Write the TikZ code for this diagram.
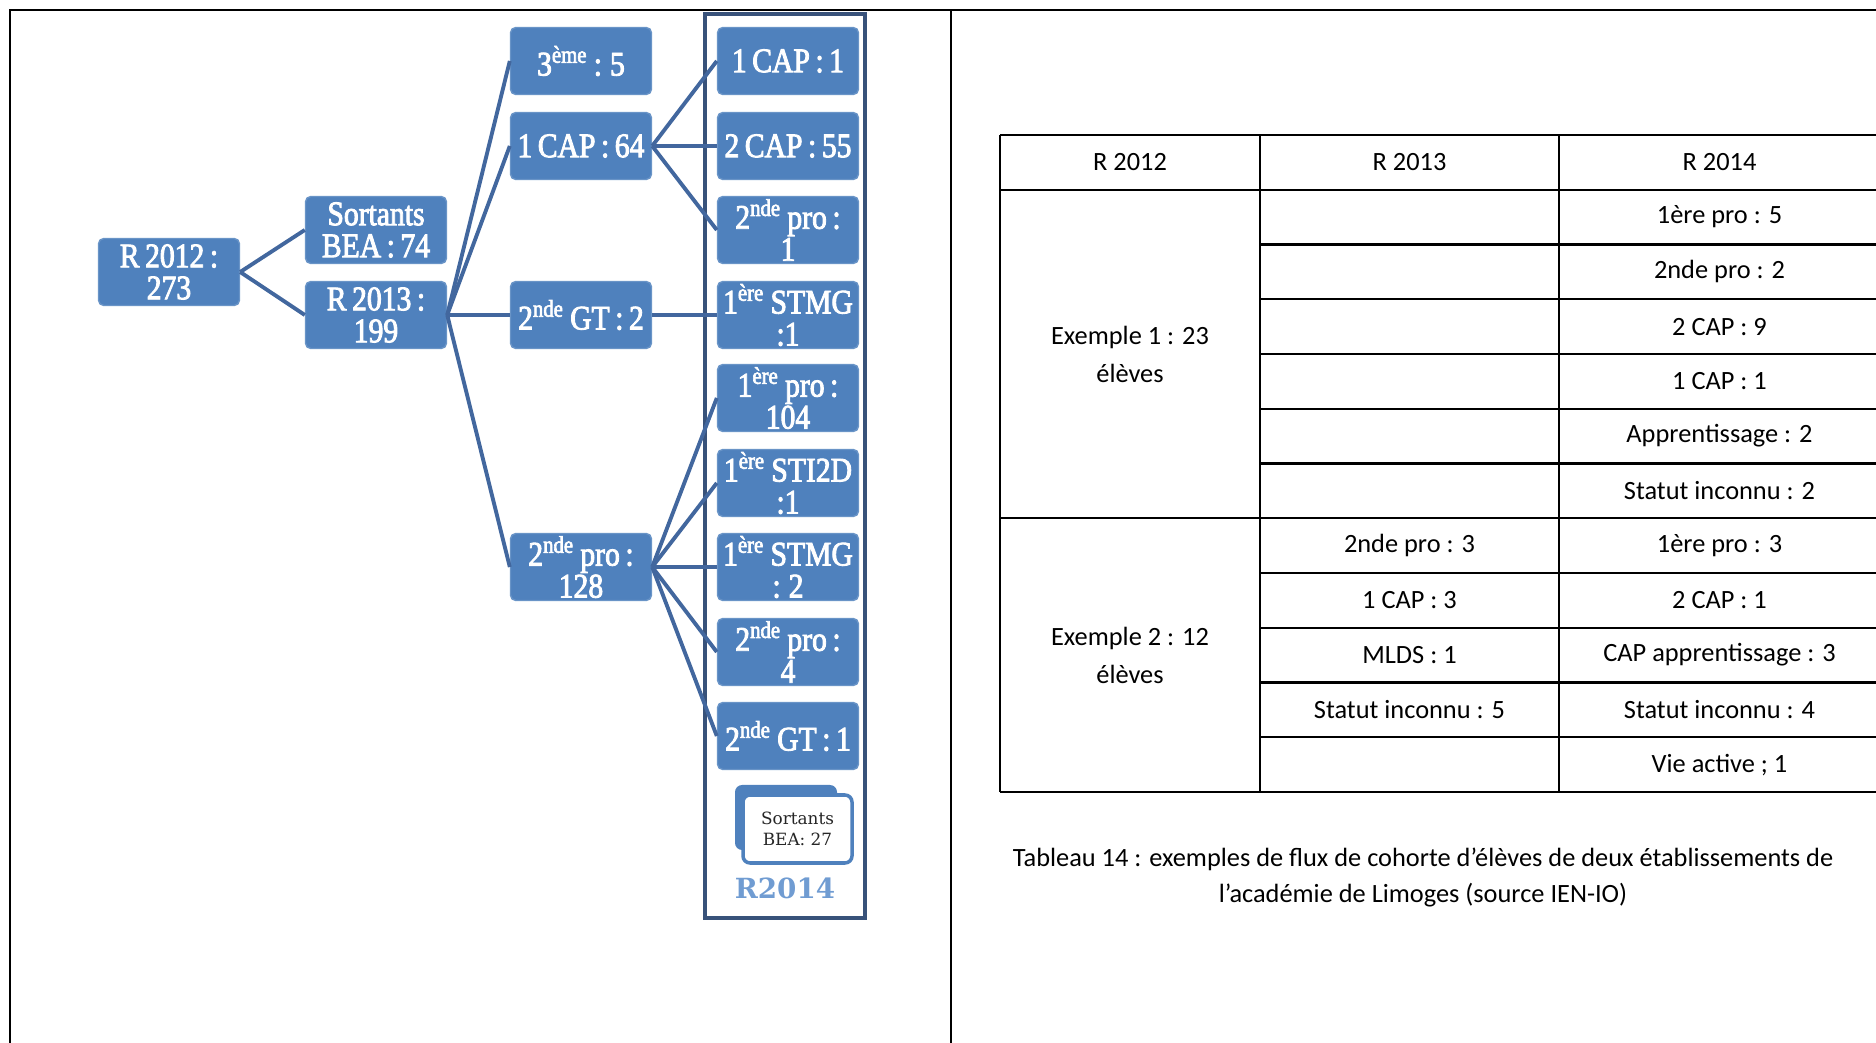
\documentclass[tikz,border=0pt]{standalone}
\usepackage{fontspec}
\setmainfont{Carlito}
\newfontfamily\flowfont[FakeStretch=0.86,FakeBold=2.5,WordSpace=0.75]{Liberation Serif}
\newfontfamily\smallserif{DejaVu Serif}
\usepackage{tikz}

\definecolor{boxblue}{RGB}{79,129,189}
\definecolor{linkblue}{RGB}{66,103,158}
\definecolor{colframe}{RGB}{56,82,122}
\definecolor{labelblue}{RGB}{112,156,210}

\begin{document}
\begin{tikzpicture}[
  flow/.style={fill=boxblue, draw=boxblue!85!white, rounded corners=1.5pt,
    minimum width=1.41cm, minimum height=0.67cm, inner sep=0.5pt,
    text=white, align=center, font=\flowfont\fontsize{9.8}{9.1}\selectfont},
  link/.style={draw=linkblue, line width=1.1pt},
  cell/.style={align=center, font=\fontsize{7.5}{10.8}\selectfont},
  rule/.style={line width=0.7pt}
]
\useasboundingbox (0,0) rectangle (18.76,-10.43);

% page frame
\draw[rule] (0.10,-10.43) -- (0.10,-0.10) -- (18.76,-0.10);
\draw[rule] (9.51,-0.10) -- (9.51,-10.43);

% flow chart: R2012 -> R2013 -> R2014
\draw[colframe, line width=1pt] (7.05,-0.14) rectangle (8.65,-9.18);

\node[flow] (r12) at (1.69,-2.72) {R 2012 :\\273};
\node[flow] (sort74) at (3.76,-2.30) {Sortants\\BEA : 74};
\node[flow] (r13) at (3.76,-3.15) {R 2013 :\\199};

\node[flow] (trois) at (5.81,-0.61) {3\textsuperscript{ème} : 5};
\node[flow] (cap64) at (5.81,-1.46) {1 CAP : 64};
\node[flow] (gt2) at (5.81,-3.15) {2\textsuperscript{nde} GT : 2};
\node[flow] (pro128) at (5.81,-5.67) {2\textsuperscript{nde} pro :\\128};

\node[flow] (cap1) at (7.88,-0.61) {1 CAP : 1};
\node[flow] (cap55) at (7.88,-1.46) {2 CAP : 55};
\node[flow] (pro1) at (7.88,-2.30) {2\textsuperscript{nde} pro :\\1};
\node[flow] (stmg1) at (7.88,-3.15) {1\textsuperscript{ère} STMG\\:1};
\node[flow] (pro104) at (7.88,-3.98) {1\textsuperscript{ère} pro :\\104};
\node[flow] (sti2d) at (7.88,-4.83) {1\textsuperscript{ère} STI2D\\:1};
\node[flow] (stmg2) at (7.88,-5.67) {1\textsuperscript{ère} STMG\\: 2};
\node[flow] (pro4) at (7.88,-6.52) {2\textsuperscript{nde} pro :\\4};
\node[flow] (gt1) at (7.88,-7.36) {2\textsuperscript{nde} GT : 1};

% leavers card with its blue tab behind
\fill[boxblue, rounded corners=2pt] (7.35,-7.85) rectangle (8.37,-8.50);
\node[draw=boxblue, line width=1pt, fill=white, rounded corners=2pt,
  minimum width=1.09cm, minimum height=0.68cm, inner sep=0.5pt, align=center,
  text=black!85, font=\smallserif\fontsize{4.8}{6.1}\selectfont]
  (sort27) at (7.975,-8.29) {Sortants\\BEA: 27};
\node[text=labelblue, font=\smallserif\bfseries\fontsize{7.9}{9}\selectfont]
  (r14) at (7.85,-8.88) {R2014};

\draw[link] (r12.east) -- (sort74.west);
\draw[link] (r12.east) -- (r13.west);
\foreach \n in {trois,cap64,gt2,pro128}
  \draw[link] (r13.east) -- (\n.west);
\foreach \n in {cap1,cap55,pro1}
  \draw[link] (cap64.east) -- (\n.west);
\draw[link] (gt2.east) -- (stmg1.west);
\foreach \n in {pro104,sti2d,stmg2,pro4,gt1}
  \draw[link] (pro128.east) -- (\n.west);

% table: 12 rows of 0.5475cm
\foreach \k in {0,1,7,12}
  \draw[rule] (10.00,{-1.35-\k*0.5475}) -- (18.80,{-1.35-\k*0.5475});
\foreach \k in {2,...,6,8,9,10,11}
  \draw[rule] (12.60,{-1.35-\k*0.5475}) -- (18.80,{-1.35-\k*0.5475});
\foreach \x in {10.00,12.60,15.59}
  \draw[rule] (\x,-1.35) -- (\x,-7.92);

\node[cell] (h1) at (11.30,-1.624) {R 2012};
\node[cell] (h2) at (14.095,-1.624) {R 2013};
\node[cell] (h3) at (17.195,-1.624) {R 2014};

\node[cell] (ex1) at (11.30,-3.54) {Exemple 1 : 23\\élèves};
\node[cell] (ex2) at (11.30,-6.55) {Exemple 2 : 12\\élèves};

\foreach \t [count=\r from 2] in {1ère pro : 5, 2nde pro : 2, 2 CAP : 9,
    1 CAP : 1, Apprentissage : 2, Statut inconnu : 2, 1ère pro : 3,
    2 CAP : 1, CAP apprentissage : 3, Statut inconnu : 4, Vie active ; 1}
  \node[cell] (c3-\r) at (17.195,{-1.35-(\r-0.5)*0.5475}) {\t};
\foreach \t [count=\r from 8] in {2nde pro : 3, 1 CAP : 3, MLDS : 1,
    Statut inconnu : 5}
  \node[cell] (c2-\r) at (14.095,{-1.35-(\r-0.5)*0.5475}) {\t};

\node[cell, font=\fontsize{7.5}{10.5}\selectfont] (caption) at (14.23,-8.775)
  {Tableau 14 : exemples de flux de cohorte d’élèves de deux établissements de\\
   l’académie de Limoges (source IEN-IO)};
\end{tikzpicture}
\end{document}
